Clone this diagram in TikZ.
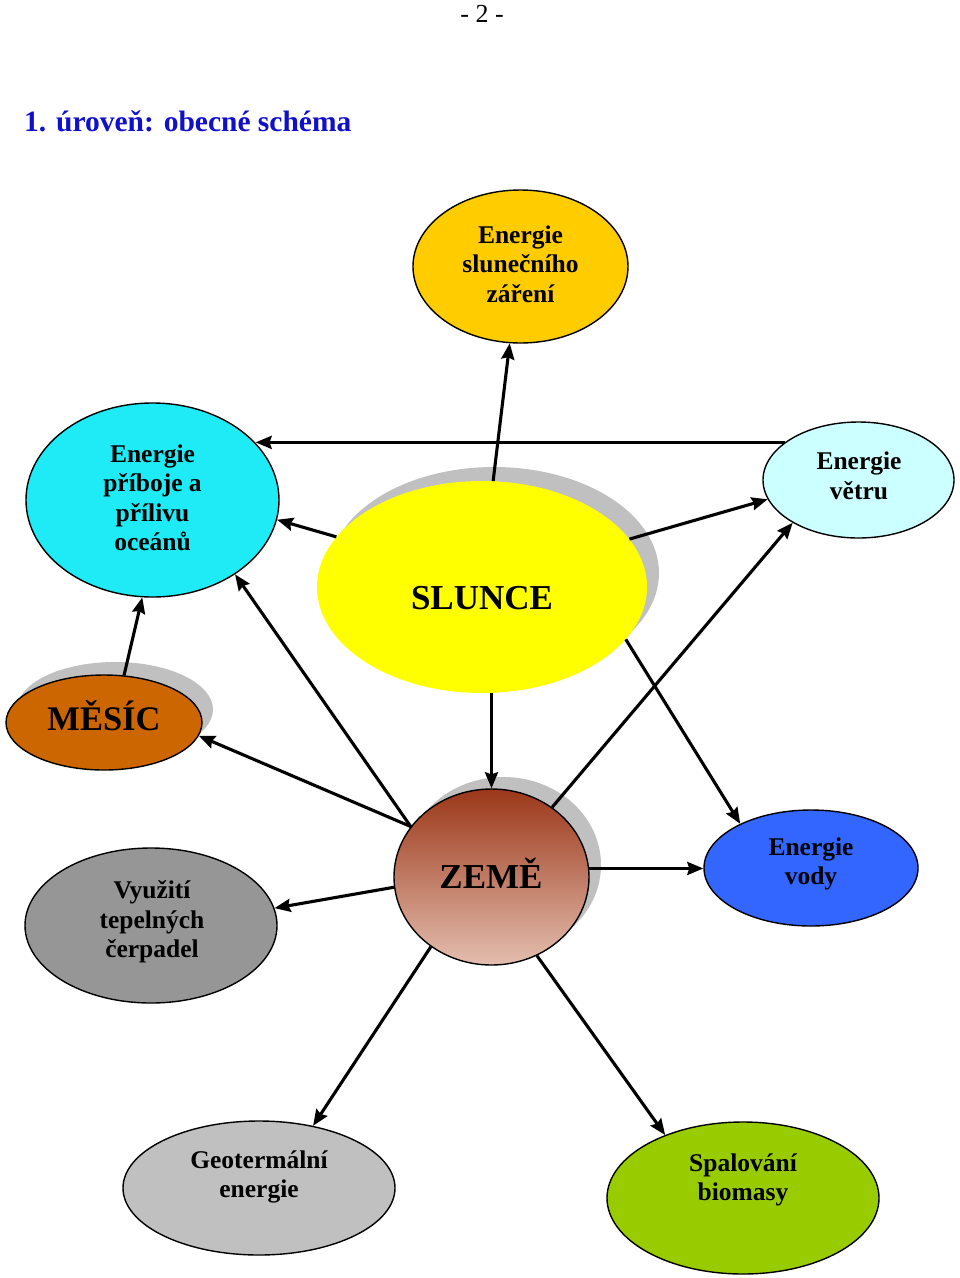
\documentclass[tikz,border=0pt]{standalone}
\usepackage{fontspec}
\setmainfont{Liberation Serif}
\usetikzlibrary{shapes.geometric,arrows.meta}
\definecolor{radfill}{RGB}{255,204,0}
\definecolor{surffill}{RGB}{30,235,245}
\definecolor{windfill}{RGB}{204,255,255}
\definecolor{sunfill}{RGB}{255,255,0}
\definecolor{moonfill}{RGB}{204,102,0}
\definecolor{earthtop}{RGB}{155,55,25}
\definecolor{earthbot}{RGB}{228,190,175}
\definecolor{waterfill}{RGB}{51,102,255}
\definecolor{heatfill}{RGB}{150,150,150}
\definecolor{geofill}{RGB}{192,192,192}
\definecolor{biofill}{RGB}{153,204,0}
\definecolor{shadowgray}{RGB}{192,192,192}
\definecolor{titleblue}{RGB}{16,16,204}
\begin{document}
\begin{tikzpicture}[x=1pt,y=-1pt,
  ell/.style={ellipse, draw=black, line width=1.4pt, inner sep=0pt},
  shadowell/.style={ellipse, fill=shadowgray, inner sep=0pt},
  lbl/.style={font=\fontsize{25.5}{29.5}\selectfont\bfseries, align=center, inner sep=0pt},
  biglbl/.style={font=\fontsize{35}{40}\selectfont\bfseries, inner sep=0pt},
  arr/.style={line width=3.1pt, -{Stealth[length=16pt,width=13pt,inset=2pt]}}]
\useasboundingbox (0,0) rectangle (960,1278);

% header
\node[font=\fontsize{26}{30}\selectfont, inner sep=0pt] (page) at (482,14) {- 2 -};
\node[anchor=base west, text=titleblue, font=\fontsize{29.5}{34}\selectfont\bfseries, inner sep=0pt] (title) at (24,131) {1. úroveň: obecné schéma};

% shadows
\node[shadowell, minimum width=330pt, minimum height=212pt] (slunce-sh) at (494,573) {};
\node[shadowell, minimum width=196pt, minimum height=95pt] (mesic-sh) at (115,709.5) {};
\node[shadowell, minimum width=195pt, minimum height=176pt] (zeme-sh) at (503.5,865) {};

% nodes
\node[ell, fill=radfill, minimum width=215pt, minimum height=153pt] (rad) at (520.5,266.5) {};
\node[lbl] (rad-t) at (520.5,264) {Energie\\slunečního\\záření};

\node[ell, fill=surffill, minimum width=253pt, minimum height=194pt] (priboje) at (152.5,500) {};
\node[lbl] (priboje-t) at (152.5,498) {Energie\\příboje a\\přílivu\\oceánů};

\node[ell, fill=windfill, minimum width=191pt, minimum height=116pt] (vetru) at (858.5,480) {};
\node[lbl] (vetru-t) at (859,476) {Energie\\větru};

\node[ellipse, fill=sunfill, inner sep=0pt, minimum width=330pt, minimum height=212pt] (slunce) at (482,587) {};
\node[biglbl] (slunce-t) at (482,598) {SLUNCE};

\node[ell, fill=moonfill, minimum width=196pt, minimum height=95pt] (mesic) at (104,722.5) {};
\node[font=\fontsize{34.5}{38}\selectfont\bfseries, inner sep=0pt] (mesic-t) at (104,716) {MĚSÍC};

\node[ell, top color=earthtop, bottom color=earthbot, minimum width=195pt, minimum height=176pt] (zeme) at (491.5,877) {};
\node[biglbl] (zeme-t) at (491,873) {ZEMĚ};

\node[ell, fill=waterfill, minimum width=214pt, minimum height=116pt] (vody) at (811,868) {};
\node[lbl] (vody-t) at (811,864) {Energie\\vody};

\node[ell, fill=heatfill, minimum width=252pt, minimum height=155pt] (cerp) at (151,925.5) {};
\node[lbl] (cerp-t) at (152,922) {Využití\\tepelných\\čerpadel};

\node[ell, fill=geofill, minimum width=272pt, minimum height=134pt] (geo) at (259,1188) {};
\node[lbl] (geo-t) at (259,1177) {Geotermální\\energie};

\node[ell, fill=biofill, minimum width=272pt, minimum height=152pt] (bio) at (743,1198) {};
\node[lbl] (bio-t) at (743,1180) {Spalování\\biomasy};

% connectors
\draw[arr] (slunce.84.7) -- (rad.262.5);
\draw[arr] (vetru.153) -- (priboje.29 |- vetru.153);
\draw[arr] (slunce.161.4) -- (priboje.351.1);
\draw[arr] (slunce.18.3) -- (vetru.192.8);
\draw[arr] (slunce.340.7) -- (vody.148.4);
\draw[arr] (zeme.north |- slunce.south) -- (zeme.north);
\draw[arr] (mesic.67.2) -- (priboje.264.4);
\draw[arr] (zeme.148) -- (mesic.352.8);
\draw[arr] (zeme.148) -- (priboje.318.8);
\draw[arr] (zeme.49.7) -- (vetru.213);
\draw[arr] (zeme.5.3) -- (vody.west |- zeme.5.3);
\draw[arr] (zeme.186.4) -- (cerp.8.6);
\draw[arr] (zeme.229.6) -- (geo.49.9);
\draw[arr] (zeme.300.5) -- (bio.141.8);
\end{tikzpicture}
\end{document}
